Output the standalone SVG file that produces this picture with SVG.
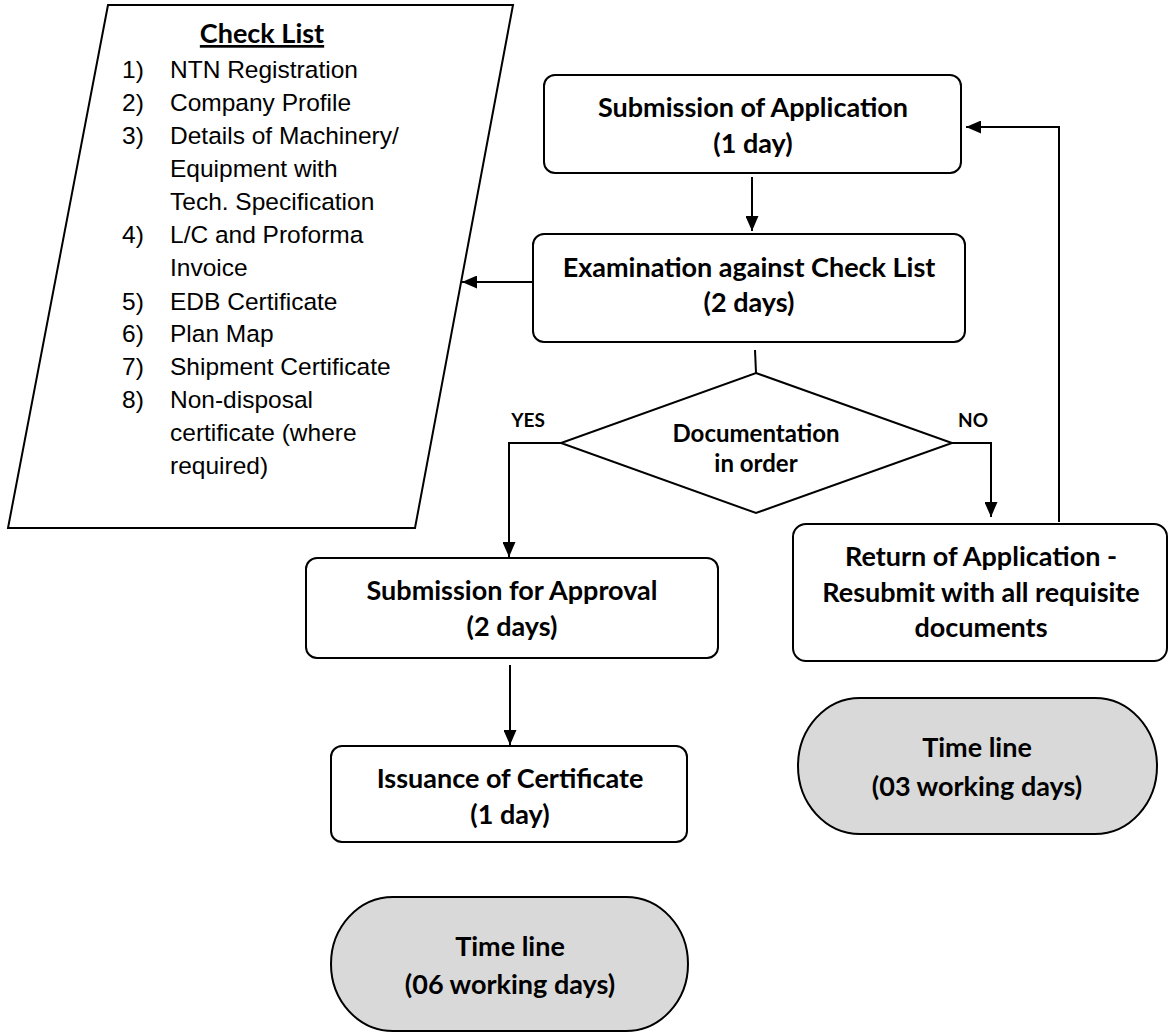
<svg xmlns="http://www.w3.org/2000/svg" width="1169" height="1032" viewBox="0 0 1169 1032">
<defs>
<marker id="ah" viewBox="0 0 15 13" refX="15" refY="6.5" markerWidth="15" markerHeight="13" markerUnits="userSpaceOnUse" orient="auto">
<path d="M0,0 L15,6.5 L0,13 Z" fill="#000"/>
</marker>
<style>
.box{fill:#fff;stroke:#000;stroke-width:2}
.term{fill:#d9d9d9;stroke:#000;stroke-width:2}
.b{font-family:Lato,"Open Sans",sans-serif;font-weight:bold;font-size:27px;fill:#000;text-anchor:middle}
.s{font-family:Lato,"Open Sans",sans-serif;font-weight:bold;font-size:24px;fill:#000;text-anchor:middle}
.lbl{font-family:Lato,"Open Sans",sans-serif;font-weight:bold;font-size:19px;fill:#000;text-anchor:middle}
.li{font-family:"Liberation Sans",Arial,sans-serif;font-size:24.5px;fill:#000}
.con{fill:none;stroke:#000;stroke-width:2}
</style>
</defs>
<rect width="1169" height="1032" fill="#fff"/>

<g id="checklist">
<polygon points="108,5 513,5 415,528 8,528" class="box"/>
<text x="262" y="43" class="b" text-decoration="underline">Check List</text>
<g class="li">
<text x="122" y="78">1)</text><text x="170" y="78">NTN Registration</text>
<text x="122" y="111">2)</text><text x="170" y="111">Company Profile</text>
<text x="122" y="144">3)</text><text x="170" y="144">Details of Machinery/</text>
<text x="170" y="177">Equipment with</text>
<text x="170" y="210">Tech. Specification</text>
<text x="122" y="243">4)</text><text x="170" y="243">L/C and Proforma</text>
<text x="170" y="276">Invoice</text>
<text x="122" y="310">5)</text><text x="170" y="310">EDB Certificate</text>
<text x="122" y="342">6)</text><text x="170" y="342">Plan Map</text>
<text x="122" y="375">7)</text><text x="170" y="375">Shipment Certificate</text>
<text x="122" y="408">8)</text><text x="170" y="408">Non-disposal</text>
<text x="170" y="441">certificate (where</text>
<text x="170" y="474">required)</text>
</g>
</g>

<g id="submission">
<rect x="544" y="75" width="417" height="98" rx="11" class="box"/>
<text x="753" y="117" class="b">Submission of Application</text>
<text x="753" y="153" class="b">(1 day)</text>
</g>

<g id="examination">
<rect x="533" y="234" width="432" height="108" rx="11" class="box"/>
<text x="749" y="277" class="b">Examination against Check List</text>
<text x="749" y="312" class="b">(2 days)</text>
</g>

<g id="decision">
<polygon points="756,373 952,443 756,513 561,443" class="box"/>
<text x="756" y="442" class="s">Documentation</text>
<text x="756" y="472" class="s">in order</text>
</g>

<g id="approval">
<rect x="306" y="558" width="412" height="100" rx="11" class="box"/>
<text x="512" y="600" class="b">Submission for Approval</text>
<text x="512" y="636" class="b">(2 days)</text>
</g>

<g id="return">
<rect x="793" y="524" width="374" height="137" rx="13" class="box"/>
<text x="981" y="566" class="b">Return of Application -</text>
<text x="981" y="602" class="b">Resubmit with all requisite</text>
<text x="981" y="637" class="b">documents</text>
</g>

<g id="issuance">
<rect x="331" y="746" width="356" height="96" rx="11" class="box"/>
<text x="510" y="788" class="b">Issuance of Certificate</text>
<text x="510" y="824" class="b">(1 day)</text>
</g>

<g id="timeline03">
<rect x="798" y="698" width="359" height="136" rx="62" ry="68" class="term"/>
<text x="977" y="757" class="b">Time line</text>
<text x="977" y="796" class="b">(03 working days)</text>
</g>

<g id="timeline06">
<rect x="331" y="897" width="357" height="134" rx="62" ry="67" class="term"/>
<text x="510" y="956" class="b">Time line</text>
<text x="510" y="994" class="b">(06 working days)</text>
</g>

<g id="connectors">
<line x1="752" y1="177" x2="752" y2="231" class="con" marker-end="url(#ah)"/>
<line x1="533" y1="282" x2="462" y2="282" class="con" marker-end="url(#ah)"/>
<line x1="755" y1="350" x2="756" y2="373" class="con"/>
<polyline points="561,443 509,443 509,557" class="con" marker-end="url(#ah)"/>
<polyline points="952,443 991,443 991,517" class="con" marker-end="url(#ah)"/>
<polyline points="1059,522 1059,127 966,127" class="con" marker-end="url(#ah)"/>
<line x1="510" y1="665" x2="510" y2="745" class="con" marker-end="url(#ah)"/>
<text x="528" y="427" class="lbl">YES</text>
<text x="973" y="427" class="lbl">NO</text>
</g>
</svg>
